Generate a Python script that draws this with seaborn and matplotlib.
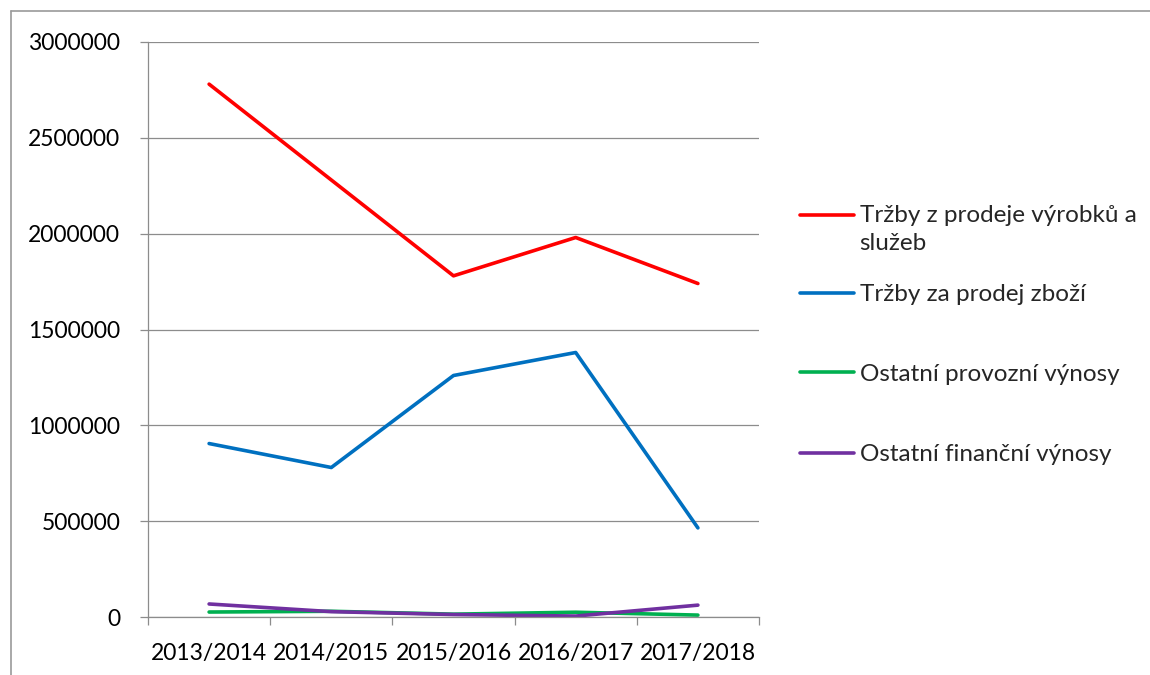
import matplotlib
matplotlib.use("Agg")
import matplotlib.pyplot as plt
import matplotlib.lines as mlines
import pandas as pd
import seaborn as sns

years = ["2013/2014", "2014/2015", "2015/2016", "2016/2017", "2017/2018"]
series_names = [
    "Tržby z prodeje výrobků a\nslužeb",
    "Tržby za prodej zboží",
    "Ostatní provozní výnosy",
    "Ostatní finanční výnosy",
]
trzby_vyrobky = [2780000, 2280000, 1780000, 1980000, 1740000]
trzby_zbozi = [905000, 780000, 1260000, 1380000, 465000]
provozni_vynosy = [26000, 30000, 15000, 25000, 10000]
financni_vynosy = [68000, 28000, 13000, 5000, 62000]
colors = ["#FF0000", "#0070C0", "#00B050", "#7030A0"]

rows = []
for name, vals in zip(series_names, [trzby_vyrobky, trzby_zbozi, provozni_vynosy, financni_vynosy]):
    for i, v in enumerate(vals):
        rows.append({"x": i, "year": years[i], "series": name, "value": v})
df = pd.DataFrame(rows)

sns.set_style("white")
plt.rcParams["font.family"] = ["Lato", "DejaVu Sans"]

fig = plt.figure(figsize=(11.5, 6.75), dpi=100)
ax = fig.add_axes([0.1287, 0.0859, 0.5313, 0.8519])

sns.lineplot(data=df, x="x", y="value", hue="series", hue_order=series_names,
             palette=colors, linewidth=2.6, ax=ax, legend=False)

ax.set_xlim(-0.5, 4.5)
ax.set_ylim(0, 3000000)
ax.set_yticks(range(0, 3000001, 500000))
ax.set_yticklabels([str(v) for v in range(0, 3000001, 500000)])
ax.set_xticks([i - 0.5 for i in range(6)])
ax.set_xticklabels([])
ax.set_xticks(range(5), minor=True)
ax.set_xticklabels(years, minor=True)
ax.set_xlabel("")
ax.set_ylabel("")

ax.grid(axis="y", color="#8c8c8c", linewidth=0.9)
ax.set_axisbelow(True)
for s in ["top", "right"]:
    ax.spines[s].set_visible(False)
for s in ["left", "bottom"]:
    ax.spines[s].set_color("#8c8c8c")
    ax.spines[s].set_linewidth(0.9)

ax.tick_params(axis="y", which="major", direction="out", length=6, width=0.9,
               color="#8c8c8c", left=True, pad=14, labelsize=16.5, labelcolor="black")
ax.tick_params(axis="x", which="major", direction="out", length=6, width=0.9,
               color="#8c8c8c", bottom=True)
ax.tick_params(axis="x", which="minor", length=0, pad=19, labelsize=16.5, labelcolor="black")

# legend split in two blocks to mimic the uneven spacing of the original
handles = [mlines.Line2D([], [], color=c, linewidth=2.6) for c in colors]
leg_kw = dict(loc="upper left", frameon=False, fontsize=17.5, handlelength=2.2,
              handletextpad=0.25, borderpad=0, borderaxespad=0)
leg1 = fig.legend(handles[:2], series_names[:2], bbox_to_anchor=(0.6957, 0.697),
                  labelspacing=1.23, **leg_kw)
leg2 = fig.legend(handles[2:], series_names[2:], bbox_to_anchor=(0.6957, 0.461),
                  labelspacing=2.44, **leg_kw)
leg1.get_texts()[0].set_linespacing(1.45)
# put the red handle level with the first line of its label
red = leg1.legend_handles[0]
red.set_ydata([y + 10.5 for y in red.get_ydata()])

# outer chart frame (top and left edges only visible in reference)
fig.add_artist(mlines.Line2D([0.0096, 1.0], [0.983, 0.983], transform=fig.transFigure,
                             color="#9a9a9a", linewidth=1.2))
fig.add_artist(mlines.Line2D([0.0096, 0.0096], [0.0, 0.983], transform=fig.transFigure,
                             color="#9a9a9a", linewidth=1.2))

fig.savefig("out.png", dpi=100)
